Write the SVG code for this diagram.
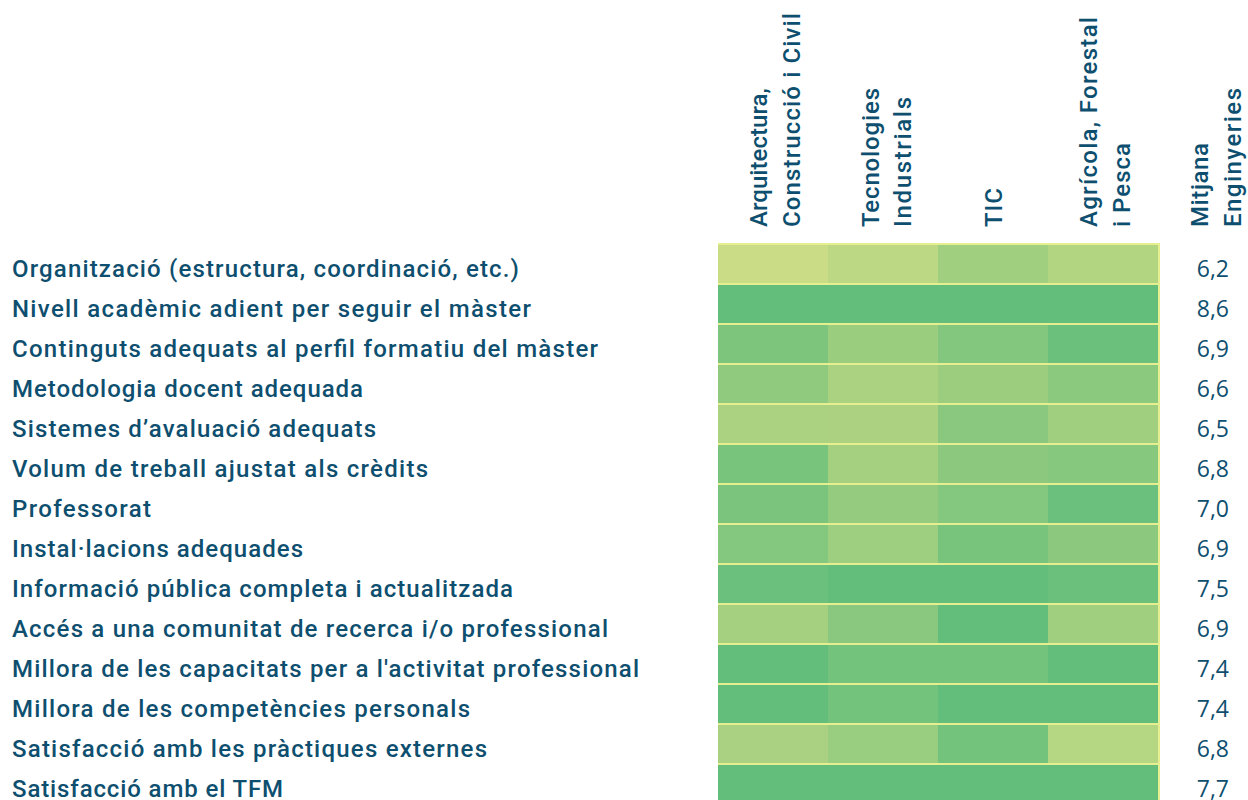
<svg xmlns="http://www.w3.org/2000/svg" width="1248" height="800" viewBox="0 0 1248 800">
<style>
.lbl{font-family:Roboto,"Noto Sans",sans-serif;font-weight:500;font-size:24px;fill:#0e4f6f}
.hdr{font-family:Roboto,"Noto Sans",sans-serif;font-weight:500;font-size:24px;fill:#0e4f6f}
.val{font-family:"Open Sans","Noto Sans",sans-serif;font-size:23px;fill:#0e4f6f;text-anchor:end}
</style>
<rect width="1248" height="800" fill="#ffffff"/>
<g id="headers">
<text class="hdr" transform="translate(767,227) rotate(-90)" textLength="139" lengthAdjust="spacing">Arquitectura,</text>
<text class="hdr" transform="translate(800,227) rotate(-90)" textLength="214" lengthAdjust="spacing">Construcció i Civil</text>
<text class="hdr" transform="translate(879,227) rotate(-90)" textLength="139" lengthAdjust="spacing">Tecnologies</text>
<text class="hdr" transform="translate(911,227) rotate(-90)" textLength="130" lengthAdjust="spacing">Industrials</text>
<text class="hdr" transform="translate(1002,227) rotate(-90)" textLength="39" lengthAdjust="spacing">TIC</text>
<text class="hdr" transform="translate(1097,227) rotate(-90)" textLength="210" lengthAdjust="spacing">Agrícola, Forestal</text>
<text class="hdr" transform="translate(1130,227) rotate(-90)" textLength="84" lengthAdjust="spacing">i Pesca</text>
<text class="hdr" transform="translate(1208,227) rotate(-90)" textLength="84" lengthAdjust="spacing">Mitjana</text>
<text class="hdr" transform="translate(1241,227) rotate(-90)" textLength="139" lengthAdjust="spacing">Enginyeries</text>
</g>
<rect id="grid-bg" x="718" y="243" width="442" height="557" fill="#e6ef8f"/>
<g id="row1">
<text class="lbl" x="12" y="277" textLength="507" lengthAdjust="spacing">Organització (estructura, coordinació, etc.)</text>
<rect x="718" y="245" width="110" height="38" fill="#cadd86"/><rect x="828" y="245" width="110" height="38" fill="#bcd885"/><rect x="938" y="245" width="110" height="38" fill="#9fcf7f"/><rect x="1048" y="245" width="110" height="38" fill="#b2d582"/>
<text class="val" x="1229" y="277">6,2</text>
</g>
<g id="row2">
<text class="lbl" x="12" y="317" textLength="519" lengthAdjust="spacing">Nivell acadèmic adient per seguir el màster</text>
<rect x="718" y="285" width="110" height="38" fill="#63be7b"/><rect x="828" y="285" width="110" height="38" fill="#63be7b"/><rect x="938" y="285" width="110" height="38" fill="#63be7b"/><rect x="1048" y="285" width="110" height="38" fill="#63be7b"/>
<text class="val" x="1229" y="317">8,6</text>
</g>
<g id="row3">
<text class="lbl" x="12" y="357" textLength="586" lengthAdjust="spacing">Continguts adequats al perfil formatiu del màster</text>
<rect x="718" y="325" width="110" height="38" fill="#7dc57d"/><rect x="828" y="325" width="110" height="38" fill="#9bcd7f"/><rect x="938" y="325" width="110" height="38" fill="#83c77e"/><rect x="1048" y="325" width="110" height="38" fill="#6bc07c"/>
<text class="val" x="1229" y="357">6,9</text>
</g>
<g id="row4">
<text class="lbl" x="12" y="397" textLength="351" lengthAdjust="spacing">Metodologia docent adequada</text>
<rect x="718" y="365" width="110" height="38" fill="#90ca7e"/><rect x="828" y="365" width="110" height="38" fill="#abd281"/><rect x="938" y="365" width="110" height="38" fill="#9ccd7f"/><rect x="1048" y="365" width="110" height="38" fill="#8bc97e"/>
<text class="val" x="1229" y="397">6,6</text>
</g>
<g id="row5">
<text class="lbl" x="12" y="437" textLength="364" lengthAdjust="spacing">Sistemes d’avaluació adequats</text>
<rect x="718" y="405" width="110" height="38" fill="#abd281"/><rect x="828" y="405" width="110" height="38" fill="#acd281"/><rect x="938" y="405" width="110" height="38" fill="#89c87e"/><rect x="1048" y="405" width="110" height="38" fill="#a0cf80"/>
<text class="val" x="1229" y="437">6,5</text>
</g>
<g id="row6">
<text class="lbl" x="12" y="477" textLength="416" lengthAdjust="spacing">Volum de treball ajustat als crèdits</text>
<rect x="718" y="445" width="110" height="38" fill="#79c47d"/><rect x="828" y="445" width="110" height="38" fill="#a5d080"/><rect x="938" y="445" width="110" height="38" fill="#8cc97e"/><rect x="1048" y="445" width="110" height="38" fill="#86c87e"/>
<text class="val" x="1229" y="477">6,8</text>
</g>
<g id="row7">
<text class="lbl" x="12" y="517" textLength="139" lengthAdjust="spacing">Professorat</text>
<rect x="718" y="485" width="110" height="38" fill="#7bc47d"/><rect x="828" y="485" width="110" height="38" fill="#94cb7f"/><rect x="938" y="485" width="110" height="38" fill="#84c77e"/><rect x="1048" y="485" width="110" height="38" fill="#6ac07c"/>
<text class="val" x="1229" y="517">7,0</text>
</g>
<g id="row8">
<text class="lbl" x="12" y="557" textLength="291" lengthAdjust="spacing">Instal·lacions adequades</text>
<rect x="718" y="525" width="110" height="38" fill="#84c77e"/><rect x="828" y="525" width="110" height="38" fill="#9ecf80"/><rect x="938" y="525" width="110" height="38" fill="#79c47d"/><rect x="1048" y="525" width="110" height="38" fill="#8cc97e"/>
<text class="val" x="1229" y="557">6,9</text>
</g>
<g id="row9">
<text class="lbl" x="12" y="597" textLength="501" lengthAdjust="spacing">Informació pública completa i actualitzada</text>
<rect x="718" y="565" width="110" height="38" fill="#6ac07c"/><rect x="828" y="565" width="110" height="38" fill="#63be7b"/><rect x="938" y="565" width="110" height="38" fill="#63be7b"/><rect x="1048" y="565" width="110" height="38" fill="#6bc07c"/>
<text class="val" x="1229" y="597">7,5</text>
</g>
<g id="row10">
<text class="lbl" x="12" y="637" textLength="596" lengthAdjust="spacing">Accés a una comunitat de recerca i/o professional</text>
<rect x="718" y="605" width="110" height="38" fill="#a4d080"/><rect x="828" y="605" width="110" height="38" fill="#89c87e"/><rect x="938" y="605" width="110" height="38" fill="#63be7b"/><rect x="1048" y="605" width="110" height="38" fill="#a0cf80"/>
<text class="val" x="1229" y="637">6,9</text>
</g>
<g id="row11">
<text class="lbl" x="12" y="677" textLength="627" lengthAdjust="spacing">Millora de les capacitats per a l'activitat professional</text>
<rect x="718" y="645" width="110" height="38" fill="#63be7b"/><rect x="828" y="645" width="110" height="38" fill="#74c37d"/><rect x="938" y="645" width="110" height="38" fill="#74c37d"/><rect x="1048" y="645" width="110" height="38" fill="#63be7b"/>
<text class="val" x="1229" y="677">7,4</text>
</g>
<g id="row12">
<text class="lbl" x="12" y="717" textLength="458" lengthAdjust="spacing">Millora de les competències personals</text>
<rect x="718" y="685" width="110" height="38" fill="#63be7b"/><rect x="828" y="685" width="110" height="38" fill="#74c37d"/><rect x="938" y="685" width="110" height="38" fill="#63be7b"/><rect x="1048" y="685" width="110" height="38" fill="#63be7b"/>
<text class="val" x="1229" y="717">7,4</text>
</g>
<g id="row13">
<text class="lbl" x="12" y="757" textLength="475" lengthAdjust="spacing">Satisfacció amb les pràctiques externes</text>
<rect x="718" y="725" width="110" height="38" fill="#a9d181"/><rect x="828" y="725" width="110" height="38" fill="#99cd7f"/><rect x="938" y="725" width="110" height="38" fill="#73c37d"/><rect x="1048" y="725" width="110" height="38" fill="#b5d682"/>
<text class="val" x="1229" y="757">6,8</text>
</g>
<g id="row14">
<text class="lbl" x="12" y="797" textLength="271" lengthAdjust="spacing">Satisfacció amb el TFM</text>
<rect x="718" y="765" width="110" height="38" fill="#63be7b"/><rect x="828" y="765" width="110" height="38" fill="#63be7b"/><rect x="938" y="765" width="110" height="38" fill="#63be7b"/><rect x="1048" y="765" width="110" height="38" fill="#63be7b"/>
<text class="val" x="1229" y="797">7,7</text>
</g>
<g id="connectors"/>
</svg>
